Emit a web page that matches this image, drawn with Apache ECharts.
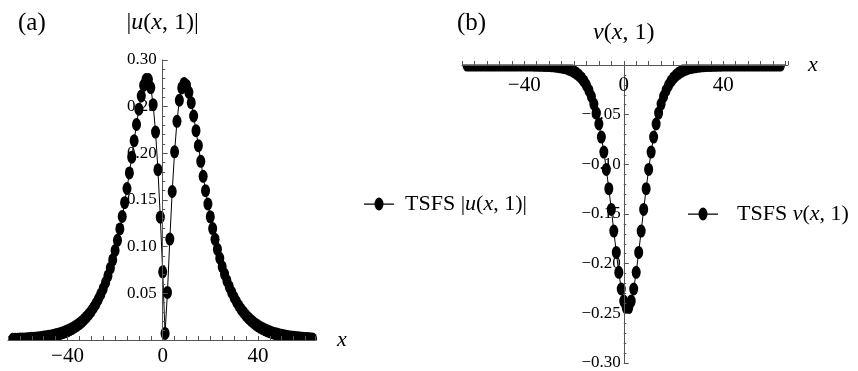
<!DOCTYPE html>
<html>
<head>
<meta charset="utf-8">
<script src="https://cdn.jsdelivr.net/npm/echarts@6/dist/echarts.min.js"></script>
<style>
  html, body { margin: 0; padding: 0; background: #fff; }
  #chart { width: 858px; height: 371px; }
</style>
</head>
<body>
<div id="chart"></div>
<script>
// Sample points x = -63 ... 63 (unit spacing)
const xs = [
  -63, -62, -61, -60, -59, -58, -57, -56, -55, -54, -53, -52, -51, -50, -49, -48,
  -47, -46, -45, -44, -43, -42, -41, -40, -39, -38, -37, -36, -35, -34, -33, -32,
  -31, -30, -29, -28, -27, -26, -25, -24, -23, -22, -21, -20, -19, -18, -17, -16,
  -15, -14, -13, -12, -11, -10, -9, -8, -7, -6, -5, -4, -3, -2, -1, 0,
  1, 2, 3, 4, 5, 6, 7, 8, 9, 10, 11, 12, 13, 14, 15, 16,
  17, 18, 19, 20, 21, 22, 23, 24, 25, 26, 27, 28, 29, 30, 31, 32,
  33, 34, 35, 36, 37, 38, 39, 40, 41, 42, 43, 44, 45, 46, 47, 48,
  49, 50, 51, 52, 53, 54, 55, 56, 57, 58, 59, 60, 61, 62, 63
];

// |u(x,1)| at the sample points
const uAbs = [
  0.0007, 0.0008, 0.0009, 0.0010, 0.0011, 0.0012, 0.0014, 0.0016, 0.0018, 0.0020, 0.0022, 0.0025, 0.0028, 0.0031, 0.0035, 0.0039,
  0.0044, 0.0049, 0.0055, 0.0062, 0.0070, 0.0078, 0.0088, 0.0098, 0.0110, 0.0124, 0.0139, 0.0156, 0.0175, 0.0196, 0.0220, 0.0247,
  0.0277, 0.0310, 0.0348, 0.0390, 0.0438, 0.0491, 0.0550, 0.0616, 0.0688, 0.0770, 0.0859, 0.0959, 0.1068, 0.1190, 0.1323, 0.1471,
  0.1623, 0.1790, 0.1959, 0.2135, 0.2309, 0.2473, 0.2614, 0.2728, 0.2791, 0.2790, 0.2705, 0.2521, 0.2228, 0.1824, 0.1316, 0.0730,
  0.0070, 0.0510, 0.1081, 0.1591, 0.2016, 0.2343, 0.2569, 0.2701, 0.2749, 0.2728, 0.2654, 0.2542, 0.2400, 0.2243, 0.2082, 0.1914,
  0.1754, 0.1600, 0.1457, 0.1320, 0.1194, 0.1079, 0.0972, 0.0876, 0.0785, 0.0705, 0.0634, 0.0569, 0.0510, 0.0457, 0.0410, 0.0367,
  0.0329, 0.0295, 0.0264, 0.0237, 0.0212, 0.0190, 0.0170, 0.0152, 0.0136, 0.0122, 0.0109, 0.0098, 0.0088, 0.0079, 0.0070, 0.0063,
  0.0056, 0.0051, 0.0045, 0.0041, 0.0036, 0.0033, 0.0029, 0.0026, 0.0023, 0.0021, 0.0019, 0.0017, 0.0015, 0.0013, 0.0012
];

// v(x,1) at the sample points
const vVal = [
  -0.0001, -0.0001, -0.0001, -0.0001, -0.0001, -0.0001, -0.0001, -0.0001, -0.0001, -0.0001, -0.0001, -0.0001, -0.0001, -0.0001, -0.0001, -0.0001,
  -0.0001, -0.0001, -0.0001, -0.0001, -0.0001, -0.0001, -0.0001, -0.0001, -0.0001, -0.0001, -0.0001, -0.0002, -0.0002, -0.0003, -0.0003, -0.0004,
  -0.0005, -0.0006, -0.0008, -0.0010, -0.0013, -0.0017, -0.0021, -0.0026, -0.0033, -0.0042, -0.0053, -0.0067, -0.0084, -0.0104, -0.0130, -0.0163,
  -0.0205, -0.0256, -0.0317, -0.0393, -0.0484, -0.0594, -0.0726, -0.0877, -0.1051, -0.1245, -0.1454, -0.1672, -0.1887, -0.2087, -0.2255, -0.2377,
  -0.2442, -0.2442, -0.2377, -0.2255, -0.2087, -0.1887, -0.1672, -0.1454, -0.1245, -0.1051, -0.0877, -0.0726, -0.0594, -0.0484, -0.0393, -0.0317,
  -0.0256, -0.0205, -0.0163, -0.0130, -0.0104, -0.0084, -0.0067, -0.0053, -0.0042, -0.0033, -0.0026, -0.0021, -0.0017, -0.0013, -0.0010, -0.0008,
  -0.0006, -0.0005, -0.0004, -0.0003, -0.0003, -0.0002, -0.0002, -0.0001, -0.0001, -0.0001, -0.0001, -0.0001, -0.0001, -0.0001, -0.0001, -0.0001,
  -0.0001, -0.0001, -0.0001, -0.0001, -0.0001, -0.0001, -0.0001, -0.0001, -0.0001, -0.0001, -0.0001, -0.0001, -0.0001, -0.0001, -0.0001
];

// Labelled positions on the x axes
const xLabelTicks = [-40, 0, 40];

// Horizontal extents of the two panels (x axis ranges)
const xRangeA = [-65, 64];
const xRangeB = [-65, 66];

const SERIF = '"Liberation Serif", "DejaVu Serif", serif';
const INK = '#000';
const AXIS = '#555';

const uData = xs.map((x, i) => [x, uAbs[i]]);
const vData = xs.map((x, i) => [x, vVal[i]]);

function signed(v, digits) {
  const s = Math.abs(v).toFixed(digits);
  return v < -1e-9 ? '\u2212' + s : s;
}

const italic = { fontStyle: 'italic', fontFamily: SERIF };

// Grid boxes in pixels
const gridA = { left: 8, right: 543, top: 60, bottom: 31 };
const gridB = { left: 462, right: 70, top: 65, bottom: 8 };
const W = 858;

// Shift each vertical axis from the grid edge to x = 0
function zeroOffset(grid, range) {
  const width = W - grid.left - grid.right;
  return -(0 - range[0]) / (range[1] - range[0]) * width;
}

// Dot-with-line legend glyph (line pieces either side of an elliptic dot)
const legendIcon = 'path://M0 6H11V7.2H0Z M19 6H30V7.2H19Z M10.5 6.5A4.5 6.5 0 1 1 19.5 6.5A4.5 6.5 0 1 1 10.5 6.5Z';

const chart = echarts.init(document.getElementById('chart'), null, { renderer: 'canvas' });

const titleStyle = { fontFamily: SERIF, fontSize: 25, fontWeight: 'normal', color: INK };

const option = {
  animation: false,
  backgroundColor: '#fff',
  title: [
    { text: '(a)', left: 13, top: 6, textStyle: titleStyle },
    { text: '(b)', left: 452, top: 6, textStyle: titleStyle }
  ],
  legend: [
    {
      data: ['TSFS |u(x,1)|'], left: 359, top: 188, orient: 'vertical',
      icon: legendIcon, itemWidth: 30, itemHeight: 13,
      formatter: () => 'TSFS |{i|u}({i|x}, 1)|',
      textStyle: { fontFamily: SERIF, fontSize: 22, color: INK, padding: [0, 0, 0, 6], rich: { i: Object.assign({ fontSize: 22, color: INK }, italic) } }
    },
    {
      data: ['TSFS v(x,1)'], left: 683, top: 198, orient: 'vertical',
      icon: legendIcon, itemWidth: 30, itemHeight: 13,
      formatter: () => 'TSFS {i|v}({i|x}, 1)',
      textStyle: { fontFamily: SERIF, fontSize: 22, color: INK, padding: [0, 0, 0, 14], rich: { i: Object.assign({ fontSize: 22, color: INK }, italic) } }
    }
  ],
  grid: [
    Object.assign({ containLabel: false, outerBoundsMode: 'none' }, gridA),
    Object.assign({ containLabel: false, outerBoundsMode: 'none' }, gridB)
  ],
  xAxis: [
    {
      gridIndex: 0, type: 'value', min: xRangeA[0], max: xRangeA[1], interval: 5, position: 'bottom', z: 5,
      axisLine: { onZero: false, lineStyle: { color: AXIS, width: 1 } },
      axisTick: { inside: true, length: 4, lineStyle: { color: AXIS } },
      axisLabel: { formatter: v => (xLabelTicks.indexOf(v) >= 0 ? signed(v, 0) : ''), fontFamily: SERIF, fontSize: 21, color: INK, margin: 6 },
      splitLine: { show: false },
      name: 'x', nameLocation: 'end', nameGap: 22,
      nameTextStyle: Object.assign({ fontSize: 22, color: INK }, italic)
    },
    {
      gridIndex: 1, type: 'value', min: xRangeB[0], max: xRangeB[1], interval: 5, position: 'top', z: 5,
      axisLine: { onZero: false, lineStyle: { color: AXIS, width: 1 } },
      axisTick: { inside: false, length: 4, lineStyle: { color: AXIS } },
      axisLabel: { inside: true, formatter: v => (xLabelTicks.indexOf(v) >= 0 ? signed(v, 0) : ''), fontFamily: SERIF, fontSize: 21, color: INK, margin: 10 },
      splitLine: { show: false },
      name: 'x', nameLocation: 'end', nameGap: 20,
      nameTextStyle: Object.assign({ fontSize: 22, color: INK }, italic)
    }
  ],
  yAxis: [
    {
      gridIndex: 0, type: 'value', min: 0, max: 0.3, interval: 0.05, z: 5,
      position: 'left', offset: zeroOffset(gridA, xRangeA),
      axisLine: { show: true, onZero: false, lineStyle: { color: AXIS, width: 1 } },
      axisTick: { show: true, inside: true, length: 5, lineStyle: { color: AXIS } },
      minorTick: { show: true, splitNumber: 5, length: 2.5, lineStyle: { color: AXIS } },
      axisLabel: { formatter: v => (Math.abs(v) < 1e-9 ? '' : v.toFixed(2)), fontFamily: SERIF, fontSize: 17, color: INK, margin: 6 },
      splitLine: { show: false },
      name: '|{i|u}({i|x}, 1)|', nameLocation: 'end', nameGap: 25,
      nameTextStyle: { fontFamily: SERIF, fontSize: 24, color: INK, rich: { i: Object.assign({ fontSize: 24, color: INK }, italic) } }
    },
    {
      gridIndex: 1, type: 'value', min: -0.3, max: 0, interval: 0.05, z: 5,
      position: 'left', offset: zeroOffset(gridB, xRangeB),
      axisLine: { show: true, onZero: false, lineStyle: { color: AXIS, width: 1 } },
      axisTick: { show: true, inside: true, length: 5, lineStyle: { color: AXIS } },
      minorTick: { show: true, splitNumber: 5, length: 2.5, lineStyle: { color: AXIS } },
      axisLabel: { formatter: v => (Math.abs(v) < 1e-9 ? '' : signed(v, 2)), fontFamily: SERIF, fontSize: 17, color: INK, margin: 3 },
      splitLine: { show: false },
      name: '{i|v}({i|x}, 1)', nameLocation: 'end', nameGap: 20,
      nameTextStyle: { fontFamily: SERIF, fontSize: 24, color: INK, rich: { i: Object.assign({ fontSize: 24, color: INK }, italic) } }
    }
  ],
  // Dots that spill over the plotted range are trimmed at the axis
  graphic: [
    { type: 'rect', z: 3, shape: { x: 0, y: 340.6, width: 330, height: 7 }, style: { fill: '#fff' } },
    { type: 'rect', z: 3, shape: { x: 450, y: 55, width: 350, height: 9.4 }, style: { fill: '#fff' } }
  ],
  series: [
    {
      name: 'TSFS |u(x,1)|', type: 'line', xAxisIndex: 0, yAxisIndex: 0, data: uData,
      symbol: 'circle', symbolSize: [9, 13], showSymbol: true, clip: false, z: 2,
      itemStyle: { color: INK }, lineStyle: { color: INK, width: 1 }
    },
    {
      name: 'TSFS v(x,1)', type: 'line', xAxisIndex: 1, yAxisIndex: 1, data: vData,
      symbol: 'circle', symbolSize: [9, 13], showSymbol: true, clip: false, z: 2,
      itemStyle: { color: INK }, lineStyle: { color: INK, width: 1 }
    }
  ]
};

chart.setOption(option);
</script>
</body>
</html>
